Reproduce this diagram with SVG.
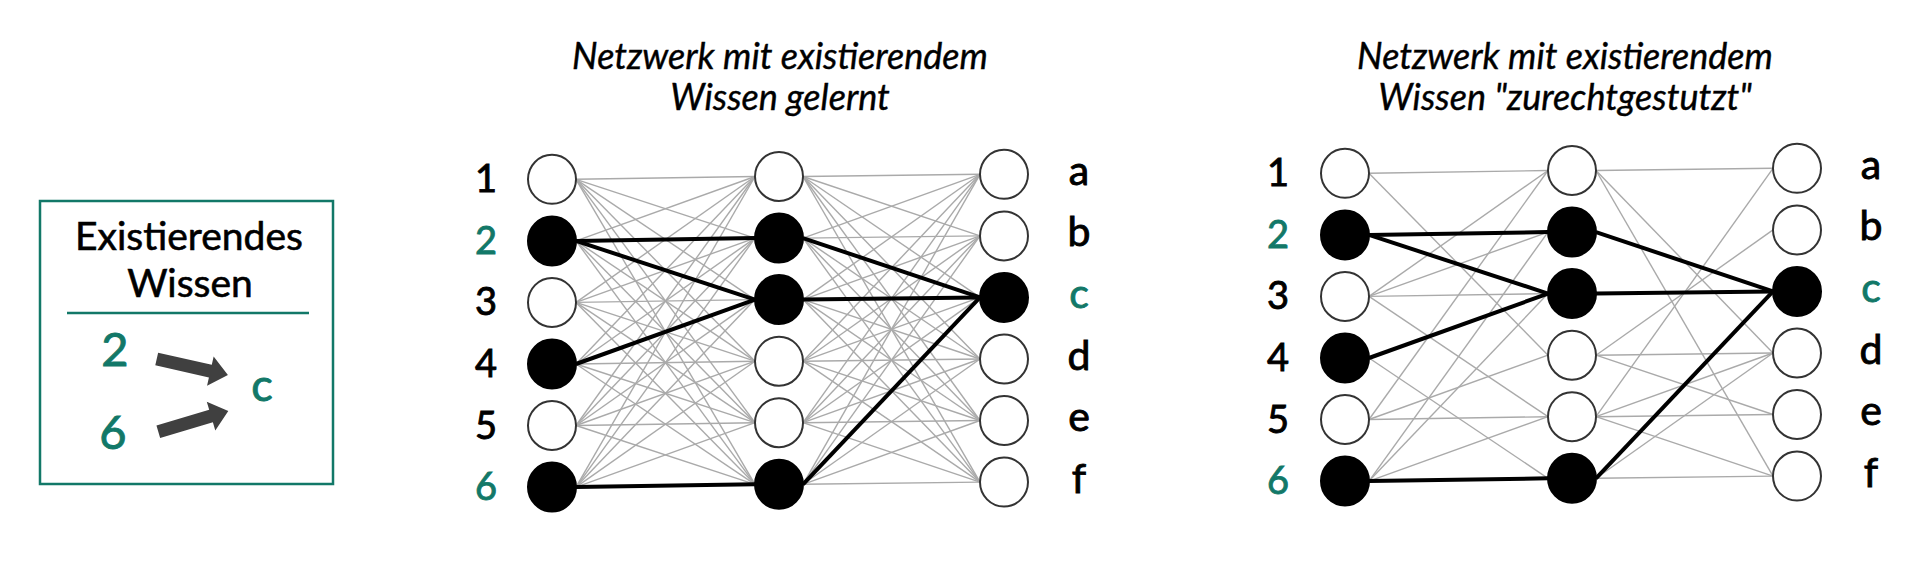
<svg xmlns="http://www.w3.org/2000/svg" width="1920" height="575" viewBox="0 0 1920 575">
<style>
.n{stroke:#333;stroke-width:2;fill:#fff}
.f{fill:#000;stroke:#000}
.g{stroke:#aaa;stroke-width:1.4}
.k{stroke:#000;stroke-width:4}
.lb{font-family:Lato,"Liberation Sans",sans-serif;font-size:38px;text-anchor:middle;fill:#000;stroke:#000;stroke-width:0.9}
.lt{font-family:Lato,"Liberation Sans",sans-serif;font-size:41px;text-anchor:middle;fill:#000;stroke:#000;stroke-width:0.9}
.t{fill:#127868;stroke:#127868}
.ti{font-family:Lato,"Liberation Sans",sans-serif;font-size:36px;font-style:italic;text-anchor:middle;fill:#000;stroke:#000;stroke-width:0.4}
.ar{fill:#404040}
</style>
<defs>
<polygon id="arrow" points="0,-6.5 55,-6.5 55,-15 73,0 55,15 55,6.5 0,6.5"/>
</defs>
<rect width="1920" height="575" fill="#fff"/>

<g id="legend">
<rect x="40" y="201" width="293" height="283" fill="none" stroke="#127868" stroke-width="2.5"/>
<text class="lb" x="189" y="250" style="font-size:39px;stroke-width:0.6">Existierendes</text>
<text class="lb" x="190" y="297" style="font-size:39px;stroke-width:0.6">Wissen</text>
<line x1="67" y1="313" x2="309" y2="313" stroke="#127868" stroke-width="2.5"/>
<text class="lb t" x="115" y="366" style="font-size:47px">2</text>
<text class="lb t" x="113" y="449" style="font-size:47px">6</text>
<text class="lb t" x="262" y="401" style="font-size:45px">c</text>
<use href="#arrow" class="ar" transform="translate(156.7,359) rotate(12.7)"/>
<use href="#arrow" class="ar" transform="translate(158.3,431.7) rotate(-16.5)"/>
</g>

<g id="titles">
<text class="ti" x="780" y="69">Netzwerk mit existierendem</text>
<text class="ti" x="780" y="110">Wissen gelernt</text>
<text class="ti" x="1565" y="69">Netzwerk mit existierendem</text>
<text class="ti" x="1565" y="110">Wissen "zurechtgestutzt"</text>
</g>

<g id="connectors">
<g class="g">
<line x1="576" y1="179.3" x2="755" y2="176.5"/><line x1="576" y1="179.3" x2="755" y2="238.1"/><line x1="576" y1="179.3" x2="755" y2="299.6"/><line x1="576" y1="179.3" x2="755" y2="361.2"/><line x1="576" y1="179.3" x2="755" y2="422.7"/><line x1="576" y1="179.3" x2="755" y2="484.3"/>
<line x1="576" y1="240.9" x2="755" y2="176.5"/><line x1="576" y1="240.9" x2="755" y2="238.1"/><line x1="576" y1="240.9" x2="755" y2="299.6"/><line x1="576" y1="240.9" x2="755" y2="361.2"/><line x1="576" y1="240.9" x2="755" y2="422.7"/><line x1="576" y1="240.9" x2="755" y2="484.3"/>
<line x1="576" y1="302.4" x2="755" y2="176.5"/><line x1="576" y1="302.4" x2="755" y2="238.1"/><line x1="576" y1="302.4" x2="755" y2="299.6"/><line x1="576" y1="302.4" x2="755" y2="361.2"/><line x1="576" y1="302.4" x2="755" y2="422.7"/><line x1="576" y1="302.4" x2="755" y2="484.3"/>
<line x1="576" y1="364" x2="755" y2="176.5"/><line x1="576" y1="364" x2="755" y2="238.1"/><line x1="576" y1="364" x2="755" y2="299.6"/><line x1="576" y1="364" x2="755" y2="361.2"/><line x1="576" y1="364" x2="755" y2="422.7"/><line x1="576" y1="364" x2="755" y2="484.3"/>
<line x1="576" y1="425.5" x2="755" y2="176.5"/><line x1="576" y1="425.5" x2="755" y2="238.1"/><line x1="576" y1="425.5" x2="755" y2="299.6"/><line x1="576" y1="425.5" x2="755" y2="361.2"/><line x1="576" y1="425.5" x2="755" y2="422.7"/><line x1="576" y1="425.5" x2="755" y2="484.3"/>
<line x1="576" y1="487.1" x2="755" y2="176.5"/><line x1="576" y1="487.1" x2="755" y2="238.1"/><line x1="576" y1="487.1" x2="755" y2="299.6"/><line x1="576" y1="487.1" x2="755" y2="361.2"/><line x1="576" y1="487.1" x2="755" y2="422.7"/><line x1="576" y1="487.1" x2="755" y2="484.3"/>
<line x1="803" y1="176.5" x2="980" y2="174.3"/><line x1="803" y1="176.5" x2="980" y2="235.9"/><line x1="803" y1="176.5" x2="980" y2="297.4"/><line x1="803" y1="176.5" x2="980" y2="359"/><line x1="803" y1="176.5" x2="980" y2="420.5"/><line x1="803" y1="176.5" x2="980" y2="482.1"/>
<line x1="803" y1="238.1" x2="980" y2="174.3"/><line x1="803" y1="238.1" x2="980" y2="235.9"/><line x1="803" y1="238.1" x2="980" y2="297.4"/><line x1="803" y1="238.1" x2="980" y2="359"/><line x1="803" y1="238.1" x2="980" y2="420.5"/><line x1="803" y1="238.1" x2="980" y2="482.1"/>
<line x1="803" y1="299.6" x2="980" y2="174.3"/><line x1="803" y1="299.6" x2="980" y2="235.9"/><line x1="803" y1="299.6" x2="980" y2="297.4"/><line x1="803" y1="299.6" x2="980" y2="359"/><line x1="803" y1="299.6" x2="980" y2="420.5"/><line x1="803" y1="299.6" x2="980" y2="482.1"/>
<line x1="803" y1="361.2" x2="980" y2="174.3"/><line x1="803" y1="361.2" x2="980" y2="235.9"/><line x1="803" y1="361.2" x2="980" y2="297.4"/><line x1="803" y1="361.2" x2="980" y2="359"/><line x1="803" y1="361.2" x2="980" y2="420.5"/><line x1="803" y1="361.2" x2="980" y2="482.1"/>
<line x1="803" y1="422.7" x2="980" y2="174.3"/><line x1="803" y1="422.7" x2="980" y2="235.9"/><line x1="803" y1="422.7" x2="980" y2="297.4"/><line x1="803" y1="422.7" x2="980" y2="359"/><line x1="803" y1="422.7" x2="980" y2="420.5"/><line x1="803" y1="422.7" x2="980" y2="482.1"/>
<line x1="803" y1="484.3" x2="980" y2="174.3"/><line x1="803" y1="484.3" x2="980" y2="235.9"/><line x1="803" y1="484.3" x2="980" y2="297.4"/><line x1="803" y1="484.3" x2="980" y2="359"/><line x1="803" y1="484.3" x2="980" y2="420.5"/><line x1="803" y1="484.3" x2="980" y2="482.1"/>
<line x1="1369" y1="173.3" x2="1548" y2="170.5"/><line x1="1369" y1="173.3" x2="1548" y2="355.2"/>
<line x1="1369" y1="296.4" x2="1548" y2="170.5"/><line x1="1369" y1="296.4" x2="1548" y2="232.1"/><line x1="1369" y1="296.4" x2="1548" y2="293.6"/><line x1="1369" y1="296.4" x2="1548" y2="416.7"/>
<line x1="1369" y1="358" x2="1548" y2="478.3"/>
<line x1="1369" y1="419.5" x2="1548" y2="170.5"/><line x1="1369" y1="419.5" x2="1548" y2="355.2"/><line x1="1369" y1="419.5" x2="1548" y2="416.7"/>
<line x1="1369" y1="481.1" x2="1548" y2="232.1"/><line x1="1369" y1="481.1" x2="1548" y2="293.6"/><line x1="1369" y1="481.1" x2="1548" y2="416.7"/>
<line x1="1596" y1="170.5" x2="1773" y2="168.3"/><line x1="1596" y1="170.5" x2="1773" y2="353"/><line x1="1596" y1="170.5" x2="1773" y2="476.1"/>
<line x1="1596" y1="355.2" x2="1773" y2="229.9"/><line x1="1596" y1="355.2" x2="1773" y2="353"/><line x1="1596" y1="355.2" x2="1773" y2="414.5"/>
<line x1="1596" y1="416.7" x2="1773" y2="168.3"/><line x1="1596" y1="416.7" x2="1773" y2="353"/><line x1="1596" y1="416.7" x2="1773" y2="414.5"/><line x1="1596" y1="416.7" x2="1773" y2="476.1"/>
<line x1="1596" y1="478.3" x2="1773" y2="353"/><line x1="1596" y1="478.3" x2="1773" y2="476.1"/>
</g>
<g class="k">
<line x1="576" y1="240.9" x2="755" y2="238.1"/><line x1="576" y1="240.9" x2="755" y2="299.6"/><line x1="576" y1="364" x2="755" y2="299.6"/><line x1="576" y1="487.1" x2="755" y2="484.3"/>
<line x1="803" y1="238.1" x2="980" y2="297.4"/><line x1="803" y1="299.6" x2="980" y2="297.4"/><line x1="803" y1="484.3" x2="980" y2="297.4"/>
<line x1="1369" y1="234.9" x2="1548" y2="232.1"/><line x1="1369" y1="234.9" x2="1548" y2="293.6"/><line x1="1369" y1="358" x2="1548" y2="293.6"/><line x1="1369" y1="481.1" x2="1548" y2="478.3"/>
<line x1="1596" y1="232.1" x2="1773" y2="291.4"/><line x1="1596" y1="293.6" x2="1773" y2="291.4"/><line x1="1596" y1="478.3" x2="1773" y2="291.4"/>
</g>
</g>

<g id="L-in-1"><ellipse class="n" cx="552" cy="179.3" rx="24" ry="24.5"/><text class="lb" x="486" y="192.3">1</text></g>
<g id="L-in-2"><ellipse class="n f" cx="552" cy="240.9" rx="24" ry="24.5"/><text class="lb t" x="486" y="253.9">2</text></g>
<g id="L-in-3"><ellipse class="n" cx="552" cy="302.4" rx="24" ry="24.5"/><text class="lb" x="486" y="315.4">3</text></g>
<g id="L-in-4"><ellipse class="n f" cx="552" cy="364" rx="24" ry="24.5"/><text class="lb" x="486" y="377">4</text></g>
<g id="L-in-5"><ellipse class="n" cx="552" cy="425.5" rx="24" ry="24.5"/><text class="lb" x="486" y="438.5">5</text></g>
<g id="L-in-6"><ellipse class="n f" cx="552" cy="487.1" rx="24" ry="24.5"/><text class="lb t" x="486" y="500.1">6</text></g>
<g id="L-h-1"><ellipse class="n" cx="779" cy="176.5" rx="24" ry="24.5"/></g>
<g id="L-h-2"><ellipse class="n f" cx="779" cy="238.1" rx="24" ry="24.5"/></g>
<g id="L-h-3"><ellipse class="n f" cx="779" cy="299.6" rx="24" ry="24.5"/></g>
<g id="L-h-4"><ellipse class="n" cx="779" cy="361.2" rx="24" ry="24.5"/></g>
<g id="L-h-5"><ellipse class="n" cx="779" cy="422.7" rx="24" ry="24.5"/></g>
<g id="L-h-6"><ellipse class="n f" cx="779" cy="484.3" rx="24" ry="24.5"/></g>
<g id="L-out-a"><ellipse class="n" cx="1004" cy="174.3" rx="24" ry="24.5"/><text class="lt" x="1079" y="184.8">a</text></g>
<g id="L-out-b"><ellipse class="n" cx="1004" cy="235.9" rx="24" ry="24.5"/><text class="lt" x="1079" y="246.4">b</text></g>
<g id="L-out-c"><ellipse class="n f" cx="1004" cy="297.4" rx="24" ry="24.5"/><text class="lt t" x="1079" y="307.9">c</text></g>
<g id="L-out-d"><ellipse class="n" cx="1004" cy="359" rx="24" ry="24.5"/><text class="lt" x="1079" y="369.5">d</text></g>
<g id="L-out-e"><ellipse class="n" cx="1004" cy="420.5" rx="24" ry="24.5"/><text class="lt" x="1079" y="431">e</text></g>
<g id="L-out-f"><ellipse class="n" cx="1004" cy="482.1" rx="24" ry="24.5"/><text class="lt" x="1079" y="492.6">f</text></g>

<g id="R-in-1"><ellipse class="n" cx="1345" cy="173.3" rx="24" ry="24.5"/><text class="lb" x="1278" y="186.3">1</text></g>
<g id="R-in-2"><ellipse class="n f" cx="1345" cy="234.9" rx="24" ry="24.5"/><text class="lb t" x="1278" y="247.9">2</text></g>
<g id="R-in-3"><ellipse class="n" cx="1345" cy="296.4" rx="24" ry="24.5"/><text class="lb" x="1278" y="309.4">3</text></g>
<g id="R-in-4"><ellipse class="n f" cx="1345" cy="358" rx="24" ry="24.5"/><text class="lb" x="1278" y="371">4</text></g>
<g id="R-in-5"><ellipse class="n" cx="1345" cy="419.5" rx="24" ry="24.5"/><text class="lb" x="1278" y="432.5">5</text></g>
<g id="R-in-6"><ellipse class="n f" cx="1345" cy="481.1" rx="24" ry="24.5"/><text class="lb t" x="1278" y="494.1">6</text></g>
<g id="R-h-1"><ellipse class="n" cx="1572" cy="170.5" rx="24" ry="24.5"/></g>
<g id="R-h-2"><ellipse class="n f" cx="1572" cy="232.1" rx="24" ry="24.5"/></g>
<g id="R-h-3"><ellipse class="n f" cx="1572" cy="293.6" rx="24" ry="24.5"/></g>
<g id="R-h-4"><ellipse class="n" cx="1572" cy="355.2" rx="24" ry="24.5"/></g>
<g id="R-h-5"><ellipse class="n" cx="1572" cy="416.7" rx="24" ry="24.5"/></g>
<g id="R-h-6"><ellipse class="n f" cx="1572" cy="478.3" rx="24" ry="24.5"/></g>
<g id="R-out-a"><ellipse class="n" cx="1797" cy="168.3" rx="24" ry="24.5"/><text class="lt" x="1871" y="178.8">a</text></g>
<g id="R-out-b"><ellipse class="n" cx="1797" cy="229.9" rx="24" ry="24.5"/><text class="lt" x="1871" y="240.4">b</text></g>
<g id="R-out-c"><ellipse class="n f" cx="1797" cy="291.4" rx="24" ry="24.5"/><text class="lt t" x="1871" y="301.9">c</text></g>
<g id="R-out-d"><ellipse class="n" cx="1797" cy="353" rx="24" ry="24.5"/><text class="lt" x="1871" y="363.5">d</text></g>
<g id="R-out-e"><ellipse class="n" cx="1797" cy="414.5" rx="24" ry="24.5"/><text class="lt" x="1871" y="425">e</text></g>
<g id="R-out-f"><ellipse class="n" cx="1797" cy="476.1" rx="24" ry="24.5"/><text class="lt" x="1871" y="486.6">f</text></g>
</svg>
